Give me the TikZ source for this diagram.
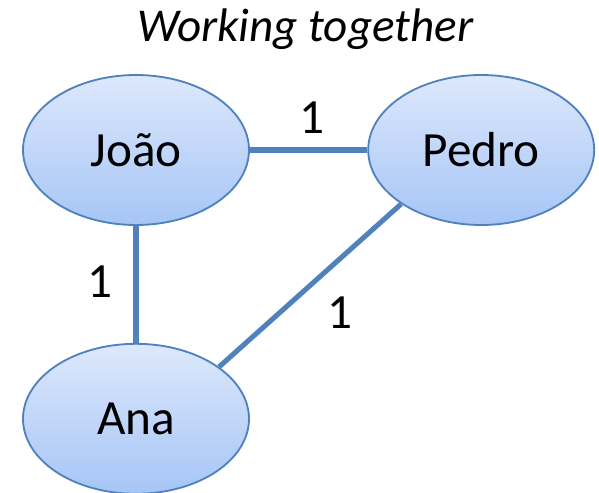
\documentclass[tikz,border=0pt]{standalone}
\usepackage{fontspec}
\setmainfont{Carlito}
\usepackage{tikz}
\usetikzlibrary{shapes.geometric}

\definecolor{edgeblue}{RGB}{79,129,189}
\definecolor{ndtop}{RGB}{221,232,252}
\definecolor{ndbot}{RGB}{166,197,246}

\begin{document}
\begin{tikzpicture}[
    every node/.style={font=\fontsize{35}{42}\selectfont},
    nd/.style={ellipse, draw=edgeblue, line width=1.3pt,
               top color=ndtop, bottom color=ndbot,
               minimum width=5.65cm, minimum height=3.75cm, inner sep=0pt},
    e/.style={draw=edgeblue, line width=3.6pt},
    lbl/.style={inner sep=1pt},
  ]
  \useasboundingbox (0,0) rectangle (14.975,-12.325);
  \node (title) at (7.63, -0.72) {\fontsize{33.5}{40}\selectfont\itshape Working together};
  \node[nd] (joao) at (3.40, -3.75) {João};
  \node[nd] (pedro) at (12.03, -3.75) {Pedro};
  \node[nd] (ana) at (3.40, -10.47) {Ana};
  \draw[e] (joao) -- (pedro);
  \draw[e] (joao) -- (ana);
  \draw[e] (pedro.214) -- (ana.32);
  \node[lbl] (wjp) at (7.80, -2.95) {1};
  \node[lbl] (wja) at (2.50, -7.05) {1};
  \node[lbl] (wpa) at (8.50, -7.82) {1};
\end{tikzpicture}
\end{document}
